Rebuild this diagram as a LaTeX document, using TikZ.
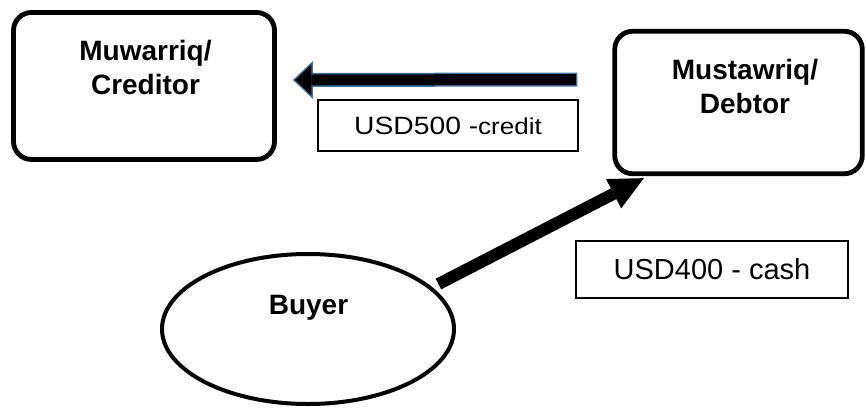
\documentclass[tikz,border=0pt]{standalone}
\usepackage{fontspec}
\usepackage{graphicx}
\setmainfont{Liberation Sans}
\usetikzlibrary{arrows.meta,positioning,shapes.geometric}
\definecolor{flowblue}{RGB}{65,113,156}
\tikzset{
  party-box/.style={draw=black, fill=white, rounded corners=18pt, line width=4.8pt},
  party-oval/.style={ellipse, draw=black, fill=white, line width=4pt},
  party-name/.style={font=\bfseries\fontsize{28}{34}\selectfont, align=center, inner sep=0pt},
  amount-box/.style={draw=black, fill=white, line width=1.4pt, inner sep=0pt},
  credit-edge/.style={draw=flowblue, line width=14pt,
    -{Triangle[length=20pt, width=38pt, line width=0pt]}},
  credit-core/.style={draw=black, line width=11pt, shorten <=1.5pt, shorten >=2.2pt,
    -{Triangle[length=16.3pt, width=31pt, line width=0pt]}},
  cash-flow/.style={draw=black, line width=12pt,
    -{Triangle[length=34pt, width=33pt, line width=0pt]}}
}
\begin{document}
\begin{tikzpicture}[x=1pt, y=-1pt]
  \useasboundingbox (0,0) rectangle (866,409);
  % the three parties
  \node[party-box, minimum width=261pt, minimum height=147pt] (creditor) at (144,86) {};
  \node[party-name, anchor=north] (creditor-name) at (145.5,40.5) {Muwarriq/\\Creditor};
  \node[party-box, minimum width=247.5pt, minimum height=142.5pt] (debtor) at (738.5,102.5) {};
  \node[party-name, anchor=north] (debtor-name) at (745,59.5) {Mustawriq/\\Debtor};
  \node[party-oval, minimum width=292pt, minimum height=150pt] (buyer) at (308,329) {};
  \node[party-name, anchor=base] (buyer-name) at (308.5,314) {Buyer};
  % credit passed from debtor back to creditor
  \coordinate (credit-tail) at ([xshift=-35pt, yshift=23pt]debtor.west);
  \coordinate (credit-tip) at ([xshift=16pt, yshift=6pt]creditor.east);
  \draw[credit-edge] (credit-tail) -- (credit-tip);
  \draw[credit-core] (credit-tail) -- (credit-tip);
  \node[amount-box, minimum width=260pt, minimum height=51pt] (credit-note) at (448,125.5)
    {\fontsize{25}{30}\selectfont\scalebox{1.13}[1]{USD500 -{\fontsize{23}{28}\selectfont credit}}};
  % cash paid by the buyer
  \coordinate (cash-tail) at ([shift={(7pt,2.5pt)}]buyer.19);
  \coordinate (cash-tip) at ([xshift=31.5pt, yshift=-2pt]debtor.south west);
  \draw[cash-flow] (cash-tail) -- (cash-tip);
  \node[amount-box, minimum width=272pt, minimum height=57pt] (cash-note) at (712,269.5)
    {\fontsize{29}{34}\selectfont USD400 - cash};
\end{tikzpicture}
\end{document}
